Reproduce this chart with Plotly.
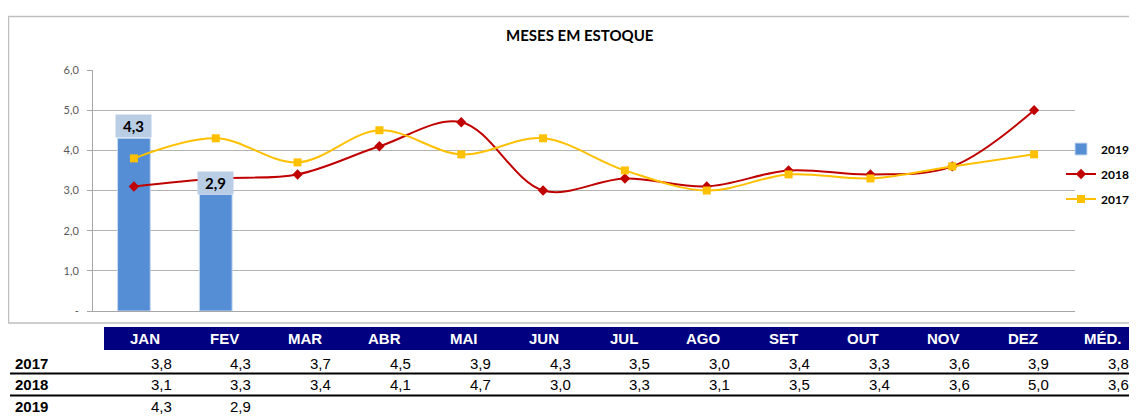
import plotly.graph_objects as go

months = ["JAN", "FEV", "MAR", "ABR", "MAI", "JUN", "JUL", "AGO", "SET", "OUT", "NOV", "DEZ"]
header = months + ["MÉD."]
v2017 = [3.8, 4.3, 3.7, 4.5, 3.9, 4.3, 3.5, 3.0, 3.4, 3.3, 3.6, 3.9]
v2018 = [3.1, 3.3, 3.4, 4.1, 4.7, 3.0, 3.3, 3.1, 3.5, 3.4, 3.6, 5.0]
v2019 = [4.3, 2.9]
avg2017 = 3.8
avg2018 = 3.6
ytickvals = [0, 1, 2, 3, 4, 5, 6]
yticktext = ["-", "1,0", "2,0", "3,0", "4,0", "5,0", "6,0"]
title = "MESES EM ESTOQUE"


def fmt(v):
    return f"{v:.1f}".replace(".", ",")


O = 8  # page body margin
W, H = 1137 - O, 416 - O
# plot area in screen pixels
L, R, T, B = 93, 1075, 70, 311


def px(xp):
    return (xp - L) / (R - L)


def py(yp):
    return (B - yp) / (B - T)


fig = go.Figure()
fig.add_bar(
    x=months[:len(v2019)], y=v2019, name="2019", width=0.4,
    marker=dict(color="#558ED5", line=dict(color="#C6D9F1", width=1)),
    legendgroup="g19",
)
fig.add_scatter(
    x=months, y=v2018, name="2018", mode="lines+markers",
    line=dict(color="#C00000", width=2, shape="spline", smoothing=1),
    marker=dict(symbol="diamond", size=8, color="#C00000"),
    legendgroup="g18",
)
fig.add_scatter(
    x=months, y=v2017, name="2017", mode="lines+markers",
    line=dict(color="#FFC000", width=2, shape="spline", smoothing=1),
    marker=dict(symbol="square", size=8, color="#FFC000"),
    legendgroup="g17",
)

annotations = []
for m, v in zip(months, v2019):
    annotations.append(dict(
        x=m, y=v, xref="x", yref="y", text=f"<b>{fmt(v)}</b>", showarrow=False,
        yanchor="bottom", bgcolor="#B9CDE5", width=33, height=20,
        font=dict(family="Lato", size=15, color="#000000"),
    ))

annotations.append(dict(
    x=px(580), y=py(35), xref="paper", yref="paper", text=f"<b>{title}</b>",
    showarrow=False, font=dict(family="Lato", size=15, color="#000000"),
    xanchor="center", yanchor="middle",
))

col_c0, col_step = 145, 79.8
for i, h in enumerate(header):
    annotations.append(dict(
        x=px(col_c0 + i * col_step), y=py(338.5), xref="paper", yref="paper",
        text=f"<b>{h}</b>", showarrow=False, xanchor="center", yanchor="middle",
        font=dict(family="Liberation Sans", size=15, color="#FFFFFF"),
    ))

rows = [("2017", v2017 + [avg2017], 363), ("2018", v2018 + [avg2018], 384.5), ("2019", v2019, 406)]
for label, vals, yc in rows:
    annotations.append(dict(
        x=px(13), y=py(yc), xref="paper", yref="paper", text=f"<b>{label}</b>",
        showarrow=False, xanchor="left", yanchor="middle",
        font=dict(family="Liberation Sans", size=15, color="#000000"),
    ))
    for i, v in enumerate(vals):
        annotations.append(dict(
            x=px(col_c0 + i * col_step + 28.5), y=py(yc), xref="paper", yref="paper",
            text=fmt(v), showarrow=False, xanchor="right", yanchor="middle",
            font=dict(family="Liberation Sans", size=15, color="#000000"),
        ))

shapes = [
    dict(type="rect", xref="paper", yref="paper", x0=px(8.5), x1=px(1145), y0=py(323), y1=py(16.5),
         line=dict(color="#BFBFBF", width=1.5), fillcolor="rgba(0,0,0,0)", layer="below"),
    dict(type="rect", xref="paper", yref="paper", x0=px(104), x1=px(1145), y0=py(350), y1=py(327),
         line=dict(width=0), fillcolor="#000080"),
    dict(type="line", xref="paper", yref="paper", x0=px(10), x1=px(1145), y0=py(373.5), y1=py(373.5),
         line=dict(color="#000000", width=2)),
    dict(type="line", xref="paper", yref="paper", x0=px(10), x1=px(1145), y0=py(395.5), y1=py(395.5),
         line=dict(color="#000000", width=2)),
]

fig.update_layout(
    width=W, height=H, autosize=False,
    margin=dict(l=L - O, r=(W + O) - R, t=T - O, b=(H + O) - B, pad=0, autoexpand=False),
    paper_bgcolor="#FFFFFF", plot_bgcolor="#FFFFFF",
    showlegend=True,
    legend=dict(
        xref="container", yref="container",
        x=(1061 - O) / W, y=1 - (174 - O) / H, xanchor="left", yanchor="middle",
        font=dict(family="Lato", size=12, color="#000000", weight="bold"),
        itemwidth=30, tracegroupgap=6, bgcolor="rgba(0,0,0,0)",
    ),
    annotations=annotations,
    shapes=shapes,
)
fig.update_xaxes(
    type="category", categoryorder="array", categoryarray=months,
    range=[-0.5, 11.5], showticklabels=False, showgrid=False,
    showline=True, linecolor="#A6A6A6", linewidth=1, ticks="", zeroline=False,
)
fig.update_yaxes(
    range=[0, 6], tickvals=ytickvals, ticktext=yticktext,
    showgrid=True, gridcolor="#B3B3B3", gridwidth=1,
    showline=True, linecolor="#A6A6A6", linewidth=1,
    ticks="outside", ticklen=5, tickcolor="#A6A6A6",
    tickfont=dict(family="Lato", size=11, color="#595959"),
    zeroline=False, ticklabelstandoff=6,
)

fig.write_html("out.html")
